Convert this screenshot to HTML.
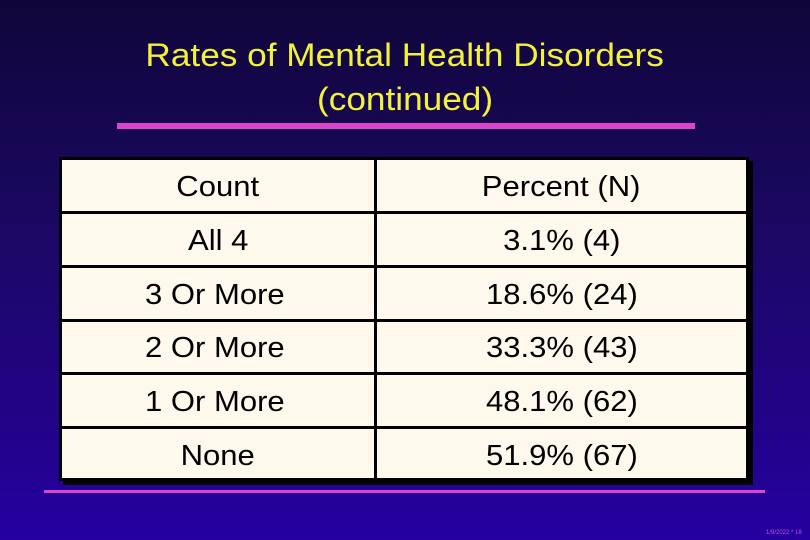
<!DOCTYPE html>
<html><head><meta charset="utf-8"><style>
body{margin:0}
#slide{position:relative;width:810px;height:540px;overflow:hidden;background:linear-gradient(180deg,#10053a 0%,#1a0860 40%,#2600a0 100%);font-family:"Liberation Sans",sans-serif}
.title{position:absolute;left:0;width:810px;text-align:center;color:#f2f23a;font-size:32px;line-height:44px}
.title span{display:inline-block;transform:scaleX(1.1)}
.bar{position:absolute;background:#dd44cc}
#shadow{position:absolute;left:63px;top:161px;width:690px;height:324px;background:#000}
#table{position:absolute;left:59px;top:157px;width:684px;height:318px;border:3px solid #000;background:#fff8ec}
.hl{position:absolute;left:0;width:684px;height:3px;background:#000}
.vl{position:absolute;top:0;left:312px;width:3px;height:318px;background:#000}
.cell{position:absolute;font-size:29px;color:#000;height:54px;line-height:54px}
.cell span{display:inline-block;transform:scaleX(1.07)}
.c1{left:0;width:312px;text-align:center}
.c2{left:315px;width:369px;text-align:center}
.lft span{transform-origin:left center}
.foot{position:absolute;left:766px;top:530px;font-size:6px;color:#bb55dd}
</style></head><body>
<div id="slide">
<div class="title" style="top:33px"><span>Rates of Mental Health Disorders</span><br><span>(continued)</span></div>
<div class="bar" style="left:117px;top:123px;width:578px;height:6px"></div>
<div id="shadow"></div>
<div id="table">
<div class="vl"></div>
<div class="hl" style="top:51px"></div>
<div class="hl" style="top:105px"></div>
<div class="hl" style="top:159px"></div>
<div class="hl" style="top:212px"></div>
<div class="hl" style="top:266px"></div>
<div class="cell c1" style="top:0"><span>Count</span></div>
<div class="cell c2" style="top:0"><span>Percent (N)</span></div>
<div class="cell c1" style="top:54px"><span>All 4</span></div>
<div class="cell c2" style="top:54px"><span>3.1% (4)</span></div>
<div class="cell c1 lft" style="top:108px;text-align:left;left:83px;width:auto"><span>3 Or More</span></div>
<div class="cell c2" style="top:108px"><span>18.6% (24)</span></div>
<div class="cell c1 lft" style="top:161px;text-align:left;left:83px;width:auto"><span>2 Or More</span></div>
<div class="cell c2" style="top:161px"><span>33.3% (43)</span></div>
<div class="cell c1 lft" style="top:215px;text-align:left;left:83px;width:auto"><span>1 Or More</span></div>
<div class="cell c2" style="top:215px"><span>48.1% (62)</span></div>
<div class="cell c1" style="top:269px"><span>None</span></div>
<div class="cell c2" style="top:269px"><span>51.9% (67)</span></div>
</div>
<div class="bar" style="left:44px;top:490px;width:721px;height:3px"></div>
<div class="foot">1/9/2022 * 18</div>
</div>
</body></html>
